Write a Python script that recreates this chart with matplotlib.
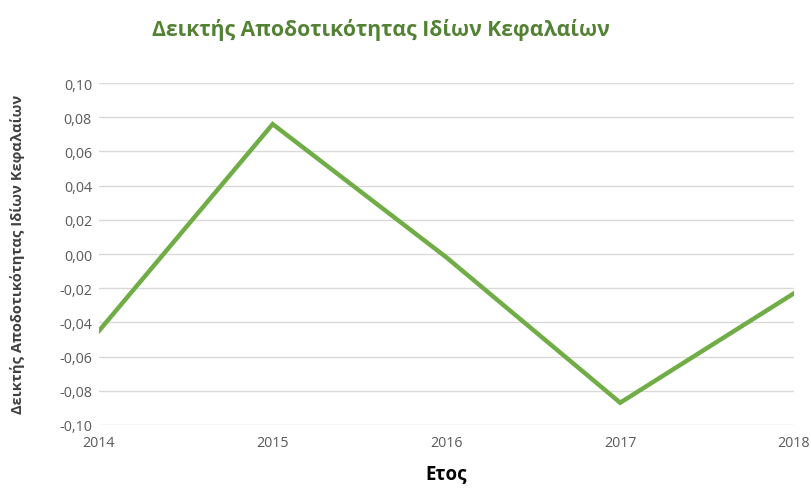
import matplotlib.pyplot as plt
from matplotlib.ticker import FuncFormatter, MultipleLocator

years = [2014, 2015, 2016, 2017, 2018]
roe = [-0.045, 0.076, -0.002, -0.087, -0.023]

title = "Δεικτής Αποδοτικότητας Ιδίων Κεφαλαίων"
ylabel = "Δεικτής Αποδοτικότητας Ιδίων Κεφαλαίων"
xlabel = "Ετος"

fig = plt.figure(figsize=(8.11, 4.89), dpi=100)
ax = fig.add_axes([0.122, 0.129, 0.857, 0.699])

ax.plot(years, roe, color="#70AD47", linewidth=3.2, solid_joinstyle="miter")

ax.set_xlim(2014, 2018)
ax.set_ylim(-0.10, 0.10)
ax.set_xticks(years)
ax.yaxis.set_major_locator(MultipleLocator(0.02))
ax.yaxis.set_major_formatter(FuncFormatter(lambda v, p: f"{v:.2f}".replace(".", ",").replace("-0,00", "0,00")))

ax.grid(axis="y", color="#D9D9D9", linewidth=1)
ax.set_axisbelow(True)
for s in ax.spines.values():
    s.set_visible(False)
ax.tick_params(length=0, colors="#595959", labelsize=10.3)
ax.tick_params(axis="y", pad=5)
ax.tick_params(axis="x", pad=7)
for lbl in ax.get_xticklabels() + ax.get_yticklabels():
    lbl.set_family("Open Sans")

fig.text(0.47, 0.938, title, ha="center", va="center", fontsize=15.2,
         fontweight="bold", color="#548235", family="Open Sans")
fig.text(0.022, 0.48, ylabel, ha="center", va="center", rotation=90,
         fontsize=10.6, fontweight="bold", color="#404040", family="Open Sans")
fig.text(0.55, 0.03, xlabel, ha="center", va="center", fontsize=13.5,
         fontweight="bold", color="#000000", family="Open Sans")

fig.savefig("out.png", dpi=100)
